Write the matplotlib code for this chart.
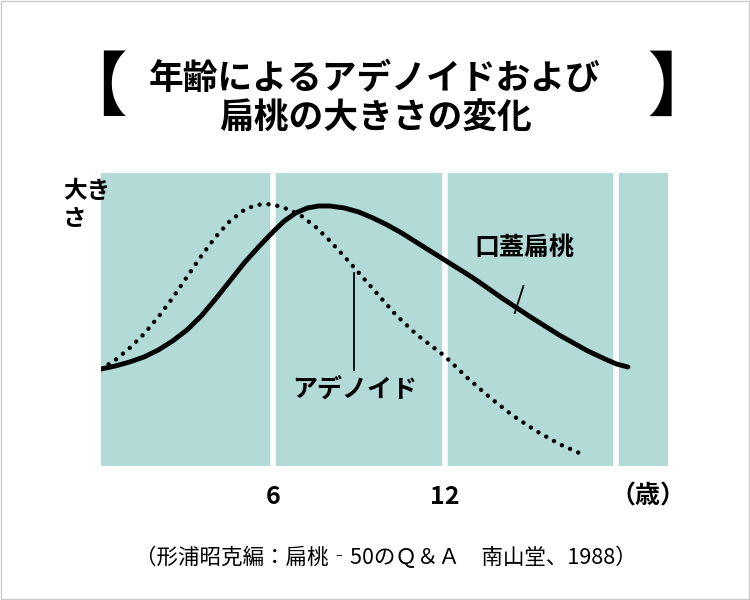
import matplotlib
matplotlib.use("Agg")
import matplotlib.pyplot as plt

plt.rcParams["font.family"] = "Noto Sans CJK JP"

# ages (years) and relative size
tonsil_age = [0, 0.5, 1.0, 1.5, 2.0, 2.5, 3.0, 3.5, 4.0, 4.5, 5.0, 5.5, 6.0, 6.4, 6.8, 7.2, 7.6, 8.0, 8.5, 9.0,
              9.5, 10.0, 10.5, 11.0, 12.0, 13.0, 14.0, 15.0, 16.0, 17.0, 17.6, 18.0, 18.4]
tonsil_size = [97, 100, 104, 109, 116, 125, 136, 150, 167, 185, 203, 219, 234, 245, 253, 258, 260, 260, 258, 254,
               248, 241, 233, 224, 206, 188, 168, 149, 131, 115, 107, 102, 99]
adenoid_age = [0, 0.5, 1.0, 1.5, 2.0, 2.5, 3.0, 3.5, 4.0, 4.5, 5.0, 5.4, 5.8, 6.2, 6.6, 7.0, 7.5, 8.0, 8.7,
               9.5, 10.3, 11.0, 12.0, 12.8, 13.6, 14.4, 15.2, 16.0, 16.7]
adenoid_size = [97, 106, 118, 132, 149, 168, 189, 210, 229, 245, 256, 261, 262, 260, 256, 250, 239, 225, 203,
                177, 151, 132, 110, 88, 68, 50, 35, 22, 13]
tick_pos = [6, 12]
tick_labels = ["6", "12"]

fig = plt.figure(figsize=(7.5, 6), dpi=100)
fig.patches.append(plt.Rectangle((0.001, 0.001), 0.998, 0.998, transform=fig.transFigure,
                                 fill=False, edgecolor="#cccccc", lw=1))
ax = fig.add_axes([101/750, 1-466/600, 567/750, 293/600])
ax.set_xlim(0, 19.8)
ax.set_ylim(0, 293)
ax.set_facecolor("#b2dad7")
for x in [6, 12, 18]:
    ax.axvline(x, color="white", lw=4)
ax.plot(tonsil_age, tonsil_size, color="black", lw=3.5, solid_capstyle="round", solid_joinstyle="round")
ax.plot(adenoid_age, adenoid_size, color="black", lw=3.2, linestyle=(0, (0.01, 2.0)), dash_capstyle="round")
for s in ax.spines.values():
    s.set_visible(False)
ax.set_yticks([])
ax.set_xticks(tick_pos)
ax.set_xticklabels(tick_labels, fontsize=18, fontweight="bold")
ax.tick_params(axis="x", length=0, pad=14)

# leader lines and labels
ax.plot([14.75, 14.45], [180, 153], color="black", lw=1.3)
ax.text(14.8, 218, "口蓋扁桃", fontsize=18, fontweight="bold", ha="center", va="center")
ax.plot([8.85, 8.85], [193, 96], color="black", lw=1.3)
ax.text(8.85, 76, "アデノイド", fontsize=18, fontweight="bold", ha="center", va="center")

fig.text(63/750, 1-205/600, "大き\nさ", fontsize=17, fontweight="bold", ha="left", va="center", linespacing=1.25)
fig.text(648/750, 1-497/600, "（歳）", fontsize=18, fontweight="bold", ha="center", va="center")
fig.text(0.5, 1-78/600, "年齢によるアデノイドおよび", fontsize=25, fontweight="bold", ha="center", va="center")
fig.text(0.5, 1-118/600, "扁桃の大きさの変化", fontsize=25, fontweight="bold", ha="center", va="center")
fig.text(92/750, 1-90/600, "【", fontsize=50, fontweight="bold", ha="center", va="center")
fig.text(682/750, 1-90/600, "】", fontsize=50, fontweight="bold", ha="center", va="center")
fig.text(0.515, 1-558/600, "（形浦昭克編：扁桃‐50のＱ＆Ａ　南山堂、1988）", fontsize=15.5, ha="center", va="center")

fig.savefig("out.png", dpi=100, facecolor="white")
